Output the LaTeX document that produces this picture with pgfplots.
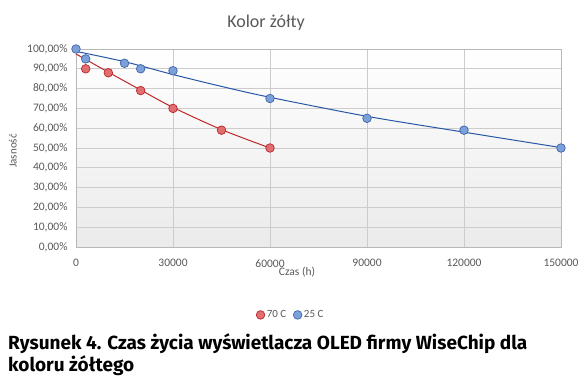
\documentclass[border=0pt]{standalone}
\usepackage{fontspec}
\setmainfont{Carlito}
\newfontfamily\capfont{Fira Sans}
\usepackage{pgfplots}
\pgfplotsset{compat=1.18}
\definecolor{txt}{RGB}{89,89,89}
\definecolor{redfill}{RGB}{226,110,112}
\definecolor{redline}{RGB}{180,40,44}
\definecolor{redtrend}{RGB}{190,40,40}
\definecolor{bluefill}{RGB}{124,160,218}
\definecolor{blueline}{RGB}{62,100,168}
\definecolor{bluetrend}{RGB}{40,88,165}
\begin{document}
\begin{tikzpicture}[x=1pt,y=1pt]
\path[use as bounding box] (0,0) rectangle (585,380);
\node[txt, font=\fontsize{18}{20}\selectfont] at (266,357) {Kolor żółty};
\node[txt, rotate=90, font=\fontsize{11}{12}\selectfont] at (13,229) {Jasność};
\node[txt, font=\fontsize{11.5}{13}\selectfont] at (297,108) {Czas (h)};
\begin{axis}[
  at={(76pt,133pt)}, anchor=south west,
  scale only axis, width=485pt, height=198pt,
  xmin=0, xmax=150000, ymin=0, ymax=100,
  scaled x ticks=false,
  axis background/.style={top color=white, bottom color=black!8},
  grid=major,
  major grid style={draw=black!20, line width=0.8pt},
  axis line style={draw=black!28, line width=0.8pt},
  major tick length=0pt,
  xtick={0,30000,60000,90000,120000,150000},
  xticklabels={0,30000,60000,90000,120000,150000},
  ytick={0,10,20,30,40,50,60,70,80,90,100},
  yticklabels={{0,00\%},{10,00\%},{20,00\%},{30,00\%},{40,00\%},{50,00\%},{60,00\%},{70,00\%},{80,00\%},{90,00\%},{100,00\%}},
  ticklabel style={txt, font=\fontsize{11.5}{13}\selectfont},
  xticklabel style={yshift=-9pt},
  yticklabel style={xshift=-5pt},
  legend columns=2,
  legend style={at={(0.443,-0.343)}, anchor=center, draw=none, fill=none,
    font=\fontsize{11}{12}\selectfont, text=txt,
    /tikz/every even column/.append style={column sep=5pt}},
  clip=false,
]
\addplot[redtrend, line width=1pt, smooth, forget plot] coordinates {
(0,97.5) (10000,88.3) (20000,79.3) (30000,70.5) (45000,59.3) (60000,50)};
\addplot[bluetrend, line width=1pt, smooth, forget plot] coordinates {
(0,98.8) (15000,93.6) (30000,87.1) (45000,81.1) (60000,75.6) (90000,66) (120000,58) (150000,50.2)};
\addplot[only marks, mark=*, mark size=4.3pt, mark options={fill=redfill, draw=redline, line width=0.7pt}] coordinates {
(3000,90) (10000,88) (20000,79) (30000,70) (45000,59) (60000,50)};
\addlegendentry{70 C}
\addplot[only marks, mark=*, mark size=4.3pt, mark options={fill=bluefill, draw=blueline, line width=0.7pt}] coordinates {
(0,100) (3000,95) (15000,92.8) (20000,90) (30000,89) (60000,75) (90000,65) (120000,59) (150000,50)};
\addlegendentry{25 C}
\end{axis}
\node[anchor=base west, inner sep=0pt, font=\capfont\bfseries\fontsize{19}{22}\selectfont] at (8,31) {Rysunek 4. Czas życia wyświetlacza OLED firmy WiseChip dla};
\node[anchor=base west, inner sep=0pt, font=\capfont\bfseries\fontsize{19}{22}\selectfont] at (8,9) {koloru żółtego};
\end{tikzpicture}
\end{document}
